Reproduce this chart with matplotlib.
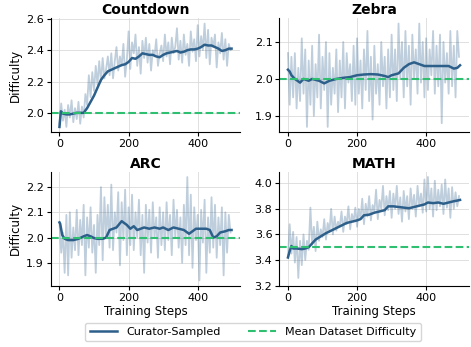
import matplotlib
matplotlib.use("Agg")
import matplotlib.pyplot as plt
import numpy as np

# raw difficulty, read every 5 training steps
raw_steps = np.arange(0, 500, 5)

countdown_raw = [1.93, 2.06, 1.95, 2.02, 1.91, 2.05, 1.97, 2.08, 1.94, 2.03, 1.96, 2.07, 1.93, 2.04,
                 1.97, 2.12, 2.05, 2.24, 2.10, 2.26,
                 2.14, 2.30, 2.18, 2.33, 2.20, 2.35, 2.22, 2.28, 2.36, 2.24,
                 2.38, 2.22, 2.33, 2.42, 2.27, 2.36, 2.30, 2.44, 2.23, 2.34,
                 2.52, 2.28, 2.45, 2.38, 2.50, 2.30, 2.42, 2.25, 2.46, 2.35,
                 2.48, 2.32, 2.44, 2.27, 2.40, 2.36, 2.47, 2.30, 2.38, 2.43,
                 2.33, 2.50, 2.36, 2.45, 2.31, 2.48, 2.38, 2.42, 2.54, 2.34,
                 2.46, 2.32, 2.50, 2.37, 2.44, 2.30, 2.52, 2.39, 2.47, 2.33,
                 2.56, 2.36, 2.49, 2.40, 2.57, 2.35, 2.53, 2.31, 2.48, 2.42,
                 2.50, 2.29, 2.45, 2.38, 2.51, 2.34, 2.47, 2.30, 2.44, 2.40]

zebra_raw = [2.07, 1.93, 2.06, 1.95, 2.07, 1.92, 2.03, 1.94, 2.11, 1.96,
             2.08, 1.87, 2.05, 1.93, 2.09, 1.90, 2.04, 1.95, 2.12, 1.92,
             2.06, 1.97, 2.10, 1.87, 2.07, 1.93, 2.03, 1.96, 2.08, 1.91,
             2.05, 1.95, 2.10, 1.92, 2.07, 1.99, 2.04, 1.94, 2.09, 1.93,
             2.11, 1.96, 2.05, 1.92, 2.08, 1.97, 2.13, 1.94, 2.06, 1.89,
             2.09, 1.96, 2.04, 1.93, 2.10, 1.98, 2.06, 1.92, 2.08, 1.95,
             2.12, 1.97, 2.08, 1.94, 2.15, 2.00, 2.10, 1.95, 2.13, 1.98,
             2.09, 1.93, 2.12, 2.00, 2.08, 1.96, 2.15, 1.99, 2.10, 1.95,
             2.11, 1.97, 2.08, 2.01, 2.13, 1.96, 2.09, 1.98, 2.12, 1.88,
             2.10, 1.99, 2.07, 1.96, 2.13, 1.98, 2.09, 1.95, 2.13, 2.06]

arc_raw = [2.06, 1.94, 2.02, 1.86, 2.09, 1.85, 2.10, 1.92, 2.04, 1.95,
           2.11, 1.93, 2.07, 1.97, 2.13, 1.85, 2.08, 1.96, 2.12, 1.94,
           2.05, 1.86, 2.09, 1.97, 2.20, 1.91, 2.16, 2.00, 2.13, 1.96,
           2.21, 1.95, 2.10, 2.02, 2.18, 1.89, 2.14, 1.99, 2.19, 1.93,
           2.12, 1.97, 2.17, 1.95, 2.10, 2.00, 2.15, 1.93, 2.09, 1.86,
           2.13, 1.98, 2.11, 1.94, 2.14, 2.00, 2.08, 1.92, 2.12, 1.97,
           2.10, 1.95, 2.14, 1.99, 2.09, 1.93, 2.15, 2.00, 2.11, 1.96,
           2.08, 1.90, 2.13, 1.97, 2.24, 1.93, 2.17, 1.88, 2.12, 1.99,
           2.09, 1.83, 2.11, 1.98, 2.15, 1.86, 2.08, 1.94, 2.16, 1.96,
           2.13, 1.92, 2.08, 1.97, 2.12, 1.85, 2.10, 1.94, 2.09, 2.02]

math_raw = [3.42, 3.68, 3.45, 3.62, 3.38, 3.58, 3.26, 3.55, 3.36, 3.60,
            3.40, 3.55, 3.48, 3.81, 3.52, 3.66, 3.47, 3.70, 3.55, 3.64,
            3.58, 3.72, 3.56, 3.69, 3.62, 3.80, 3.60, 3.74, 3.63, 3.70,
            3.66, 3.78, 3.62, 3.74, 3.68, 3.82, 3.64, 3.76, 3.70, 3.81,
            3.66, 3.80, 3.72, 3.88, 3.68, 3.84, 3.74, 3.90, 3.71, 3.83,
            3.78, 3.95, 3.72, 3.87, 3.80, 3.98, 3.75, 3.90, 3.79, 3.94,
            3.73, 3.92, 3.80, 3.98, 3.76, 3.89, 3.70, 3.94, 3.78, 3.90,
            3.72, 3.96, 3.80, 3.91, 3.74, 3.98, 3.82, 3.92, 3.77, 4.03,
            3.78, 4.05, 3.80, 3.96, 3.74, 4.02, 3.79, 3.95, 3.82, 3.99,
            3.76, 4.03, 3.81, 3.96, 3.73, 3.97, 3.80, 3.93, 3.82, 3.90]

# smoothed curves
countdown_sm_x = [0, 4, 10, 20, 30, 40, 50, 60, 70, 80, 90, 100, 110, 120, 130, 140, 150, 160, 170, 180,
                  190, 200, 210, 220, 230, 240, 250, 260, 270, 280, 290, 300, 310, 320, 330, 340, 350,
                  360, 370, 380, 390, 400, 410, 420, 430, 440, 450, 460, 470, 480, 490, 498]
countdown_sm = [1.91, 2.01, 1.995, 1.99, 1.99, 1.995, 2.0, 2.0, 2.0, 2.03, 2.07, 2.11, 2.16, 2.21, 2.24,
                2.265, 2.275, 2.285, 2.295, 2.305, 2.31, 2.325, 2.35, 2.345, 2.36, 2.38, 2.375, 2.37,
                2.37, 2.36, 2.355, 2.37, 2.38, 2.385, 2.39, 2.395, 2.385, 2.39, 2.40, 2.405, 2.405,
                2.41, 2.42, 2.435, 2.43, 2.43, 2.42, 2.41, 2.395, 2.40, 2.41, 2.41]

zebra_sm_x = [0, 5, 10, 20, 35, 45, 60, 70, 90, 105, 120, 140, 160, 180, 200, 220, 240, 260, 280, 290,
              300, 320, 335, 350, 365, 380, 395, 410, 430, 450, 465, 480, 490, 498]
zebra_sm = [2.025, 2.02, 2.01, 2.0, 1.99, 2.0, 1.995, 2.0, 1.995, 1.988, 1.995, 2.0, 2.003, 2.005, 2.01,
            2.012, 2.013, 2.012, 2.008, 2.005, 2.01, 2.015, 2.03, 2.04, 2.045, 2.04, 2.035, 2.035,
            2.035, 2.035, 2.035, 2.028, 2.03, 2.037]

arc_sm_x = [0, 2, 8, 15, 25, 40, 55, 70, 80, 90, 100, 110, 125, 135, 145, 155, 165, 180, 195, 205, 215,
            225, 235, 245, 260, 275, 290, 300, 315, 330, 345, 360, 375, 385, 395, 410, 425, 435, 445,
            455, 465, 480, 490, 498]
arc_sm = [2.06, 2.055, 2.01, 1.995, 1.99, 1.99, 1.995, 2.005, 2.01, 2.005, 1.998, 1.995, 1.995, 2.0,
          2.03, 2.035, 2.04, 2.065, 2.05, 2.035, 2.045, 2.03, 2.035, 2.04, 2.035, 2.04, 2.035, 2.04,
          2.03, 2.04, 2.035, 2.03, 2.015, 2.025, 2.035, 2.035, 2.035, 2.03, 2.0, 2.005, 2.02, 2.025,
          2.03, 2.03]

math_sm_x = [0, 5, 10, 15, 25, 40, 50, 60, 70, 80, 95, 110, 125, 140, 155, 170, 185, 200, 210, 220,
             235, 250, 265, 280, 290, 305, 320, 335, 350, 365, 380, 395, 405, 420, 435, 450, 465, 480,
             490, 498]
math_sm = [3.42, 3.47, 3.51, 3.49, 3.49, 3.485, 3.49, 3.5, 3.53, 3.56, 3.585, 3.61, 3.63, 3.65, 3.67,
           3.69, 3.70, 3.71, 3.72, 3.75, 3.755, 3.77, 3.78, 3.79, 3.82, 3.82, 3.815, 3.81, 3.805,
           3.815, 3.825, 3.835, 3.85, 3.845, 3.85, 3.84, 3.85, 3.86, 3.865, 3.87]

titles = ["Countdown", "Zebra", "ARC", "MATH"]
means = [2.0, 2.0, 2.0, 3.5]
raws = [countdown_raw, zebra_raw, arc_raw, math_raw]
smooth = [(countdown_sm_x, countdown_sm), (zebra_sm_x, zebra_sm), (arc_sm_x, arc_sm), (math_sm_x, math_sm)]

dark = "#2d5f8b"
green = "#2fbf71"

fig, axes = plt.subplots(2, 2, figsize=(4.71, 3.47), dpi=100)
fig.subplots_adjust(left=0.108, right=0.995, top=0.947, bottom=0.177, wspace=0.207, hspace=0.35)

for i, ax in enumerate(axes.flat):
    ax.plot(raw_steps, raws[i], color=dark, alpha=0.3, lw=1.3)
    l1, = ax.plot(smooth[i][0], smooth[i][1], color=dark, lw=1.8, label="Curator-Sampled")
    l2 = ax.axhline(means[i], color=green, ls="--", lw=1.5, label="Mean Dataset Difficulty")
    ax.set_title(titles[i], fontsize=10, fontweight="bold", pad=3)
    ax.grid(True, color="#d8d8d8", lw=0.7, alpha=0.8)
    ax.set_axisbelow(True)
    ax.spines["top"].set_visible(False)
    ax.spines["right"].set_visible(False)
    ax.set_xticks([0, 200, 400])
    ax.tick_params(labelsize=8, length=3, pad=2)
    if i % 2 == 0:
        ax.set_ylabel("Difficulty", fontsize=8.5, labelpad=3)
    if i >= 2:
        ax.set_xlabel("Training Steps", fontsize=8.5, labelpad=2)

axes[0, 0].set_yticks([2.0, 2.2, 2.4, 2.6])
axes[0, 1].set_yticks([1.9, 2.0, 2.1])
axes[1, 0].set_yticks([1.9, 2.0, 2.1, 2.2])
axes[1, 1].set_yticks([3.2, 3.4, 3.6, 3.8, 4.0])

fig.legend(handles=[l1, l2], loc="lower center", bbox_to_anchor=(0.537, 0.0), ncol=2,
           fontsize=8, frameon=True, edgecolor="#cccccc", handlelength=2.5, columnspacing=2.5)

fig.savefig("out.png", dpi=100)
